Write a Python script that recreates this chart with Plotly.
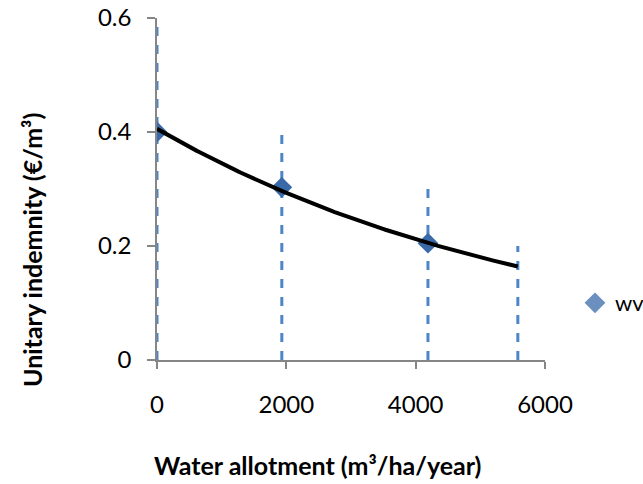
import numpy as np
import plotly.graph_objects as go

# Data
allotment = [0, 1930, 4190, 5580]          # m3/ha/year
indemnity = [0.400, 0.303, 0.205, 0.163]   # €/m3
marker_shown = [1, 1, 1, 0]
err_top = [0.6, 0.4, 0.3, 0.2]             # upper end of the (dashed) error bars
x_ticks = [0, 2000, 4000, 6000]
y_ticks = [0, 0.2, 0.4, 0.6]

FONT = "Lato"
BLUE = "#3A69A8"
ERR = "#4C86C9"

fig = go.Figure()

# dashed error bars (from 0 to upper value)
for xi, ti in zip(allotment, err_top):
    fig.add_trace(go.Scatter(x=[xi, xi], y=[0, ti], mode="lines",
                             line=dict(color=ERR, width=3, dash="dash"),
                             showlegend=False, hoverinfo="skip"))

# exponential trendline fitted to the data
xa = np.array(allotment, dtype=float)
coef = np.polyfit(xa, np.log(indemnity), 1)
xt = np.linspace(xa.min(), xa.max(), 200)
yt = np.exp(coef[1]) * np.exp(coef[0] * xt)

# data points
fig.add_trace(go.Scatter(x=allotment, y=indemnity, mode="markers", name="wv",
                         marker=dict(symbol="diamond", size=16, color=BLUE,
                                     opacity=marker_shown,
                                     line=dict(width=0))))

fig.add_trace(go.Scatter(x=xt, y=yt, mode="lines",
                         line=dict(color="black", width=4),
                         showlegend=False, hoverinfo="skip"))

PL, PR, PT, PB = 157, 545, 18, 360
W, H = 643, 484
pw, ph = PR - PL, PB - PT

def px2paper(x, y):
    return (x - PL) / pw, (PB - y) / ph

xt_, yt_ = px2paper(317, 465)
xy_, yy_ = px2paper(32, 250)

fig.update_layout(
    width=W, height=H,
    margin=dict(l=PL, r=W - PR, t=PT, b=H - PB, autoexpand=False),
    paper_bgcolor="white", plot_bgcolor="white",
    font=dict(family=FONT, size=24, color="black"),
    xaxis=dict(range=[0, 6000], tickvals=x_ticks, ticktext=[str(v) for v in x_ticks],
               showgrid=False, zeroline=False, showline=True, linecolor="#868686",
               linewidth=1.5, ticks="outside", ticklen=7, tickcolor="#868686",
               tickwidth=1.5, ticklabelstandoff=15, tickfont=dict(size=24),
               automargin=False),
    yaxis=dict(range=[0, 0.6], tickvals=y_ticks, ticktext=["0", "0.2", "0.4", "0.6"],
               showgrid=False, zeroline=False, showline=True, linecolor="#868686",
               linewidth=1.5, ticks="outside", ticklen=8, tickcolor="#868686",
               tickwidth=1.5, ticklabelstandoff=11, tickfont=dict(size=24),
               automargin=False),
    legend=dict(x=(575 - PL) / pw, y=(PB - 303) / ph, xanchor="left", yanchor="middle",
                font=dict(size=22), bgcolor="rgba(0,0,0,0)"),
    annotations=[
        dict(text="<b>Water allotment (m³/ha/year)</b>", x=xt_, y=yt_,
             xref="paper", yref="paper", showarrow=False,
             xanchor="center", yanchor="middle", font=dict(size=25)),
        dict(text="<b>Unitary indemnity (€/m³)</b>", x=xy_, y=yy_,
             xref="paper", yref="paper", showarrow=False, textangle=-90,
             xanchor="center", yanchor="middle", font=dict(size=25)),
    ],
)

fig.write_html("out.html")
